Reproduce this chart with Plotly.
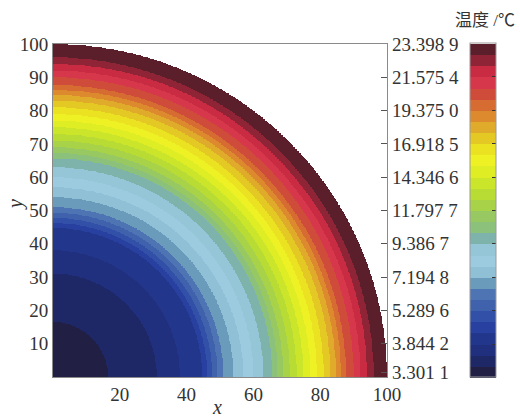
import numpy as np
import plotly.graph_objects as go

# ---- data ----
# band colours (inner -> outer) and each band's outer radius in the plot
band_colors = [
    "#221f45", "#1f2866", "#20307e", "#22378c", "#2841a0", "#3250a8",
    "#4062ad", "#4f74b3", "#6a9bbb", "#8fc0d6", "#9ccbe0", "#94c6d8",
    "#7db3aa", "#8bc17a", "#97c862", "#a8d247", "#b9dc34", "#cbe52b",
    "#dfee24", "#eef124", "#ebe322", "#e4c824", "#e0aa2a", "#dc8a2d",
    "#d76c33", "#d04c3a", "#d6374a", "#c92b42", "#8e2436", "#5a1f2b",
]
band_outer_radius = [
    16.5, 31.0, 38.0, 44.7, 46.2, 47.7, 49.3, 51.0, 54.0, 57.0, 60.0, 63.0,
    65.7, 67.3, 69.0, 71.0, 73.0, 75.0, 77.0, 79.0, 81.0, 83.0, 84.7, 86.2,
    87.7, 90.0, 92.0, 94.0, 96.0, 100.0,
]
x_ticks = [20, 40, 60, 80, 100]
y_ticks = [10, 20, 30, 40, 50, 60, 70, 80, 90, 100]
temp_label_pos = [100, 90, 80, 70, 60, 50, 40, 30, 20, 10, 1.5]
temp_labels = ["23.398 9", "21.575 4", "19.375 0", "16.918 5", "14.346 6",
               "11.797 7", "9.386 7", "7.194 8", "5.289 6", "3.844 2", "3.301 1"]
colorbar_title = "温度 /℃"

# ---- build field on a grid ----
n = 500
xs = (np.arange(n) + 0.5) * 100.0 / n
ys = (np.arange(n) + 0.5) * 100.0 / n
X, Y = np.meshgrid(xs, ys)
R = np.hypot(X, Y)
Z = np.searchsorted(np.array(band_outer_radius), R, side="left").astype(float) + 1
Z[R > 100] = np.nan

N = len(band_colors)
cscale = []
for k, c in enumerate(band_colors):
    cscale.append([k / N, c])
    cscale.append([(k + 1) / N, c])

FONT = "Liberation Serif, Noto Sans CJK SC"
L, Rm, T, B = 53, 133, 44, 41
W, H = 520, 418
pw = W - L - Rm
ph = H - T - B
bottom = T + ph


def px(xp):
    return (xp - L) / pw


def py(yp):
    return (bottom - yp) / ph


fig = go.Figure()
fig.add_trace(go.Heatmap(
    x=xs, y=ys, z=Z, colorscale=cscale, zmin=0.5, zmax=N + 0.5,
    hoverinfo="skip",
    colorbar=dict(
        x=px(470), xanchor="left", xpad=0,
        y=0.5, yanchor="middle", ypad=0,
        lenmode="pixels", len=ph + 1, thickness=26,
        outlinewidth=1, outlinecolor="#9a9a9a",
        tickmode="array", tickvals=[3.5 + 3 * i for i in range(9)],
        ticks="inside", ticklen=4, tickcolor="#333", showticklabels=False,
    ),
))
fig.add_trace(go.Scatter(x=[None], y=[None], yaxis="y2", showlegend=False,
                         hoverinfo="skip"))

axis_line = dict(showline=True, linecolor="#8a8a8a", linewidth=1,
                 showgrid=False, zeroline=False)
fig.update_layout(
    width=W, height=H,
    margin=dict(l=L, r=Rm, t=T, b=B, pad=0),
    paper_bgcolor="white", plot_bgcolor="white",
    font=dict(family=FONT, size=19, color="#333"),
    xaxis=dict(range=[0, 100], tickmode="array", tickvals=x_ticks,
               ticks="", mirror=True, **axis_line),
    yaxis=dict(range=[0, 100], tickmode="array", tickvals=y_ticks,
               ticks="", mirror=True, **axis_line),
    yaxis2=dict(range=[0, 100], overlaying="y", side="right", anchor="x",
                tickmode="array", tickvals=temp_label_pos, ticktext=temp_labels,
                ticks="inside", ticklen=6, tickcolor="#555",
                ticklabelstandoff=4,
                showgrid=False, zeroline=False, showline=False),
    showlegend=False,
    annotations=[
        dict(text=colorbar_title, xref="paper", yref="paper",
             x=px(485), y=py(20), xanchor="center", yanchor="middle",
             showarrow=False,
             font=dict(family=FONT, size=17, color="#333")),
        dict(text="<i>y</i>", xref="paper", yref="paper",
             x=px(15), y=py(205), xanchor="center", yanchor="middle",
             showarrow=False, textangle=-90,
             font=dict(family=FONT, size=20, color="#333")),
        dict(text="<i>x</i>", xref="paper", yref="paper",
             x=px(217), y=py(407), xanchor="center", yanchor="middle",
             showarrow=False,
             font=dict(family=FONT, size=20, color="#333")),
    ],
)
fig.write_html("out.html")
